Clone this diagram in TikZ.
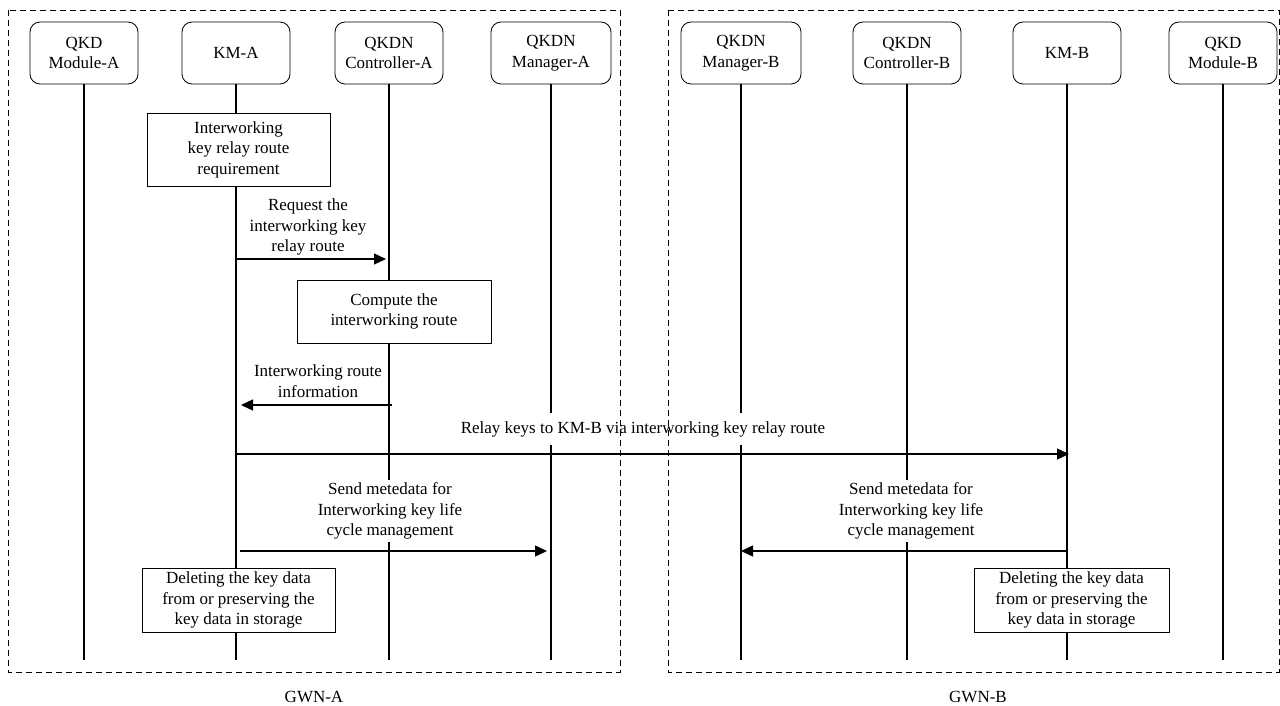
\documentclass[tikz,border=0pt]{standalone}
\usepackage{fontspec}
\setmainfont{Liberation Serif}
\usetikzlibrary{arrows.meta}
\begin{document}
\begin{tikzpicture}[x=1pt,y=-1pt,
 every node/.style={font=\fontsize{17}{20.5}\selectfont, align=center},
 topbox/.style={draw, rounded corners=10pt, minimum height=62pt, minimum width=108pt, inner sep=2pt, line width=0.8pt},
 actbox/.style={draw, fill=white, line width=0.8pt, inner sep=2pt},
 life/.style={line width=1.2pt},
 msg/.style={line width=1.3pt, -{Triangle[length=12pt,width=11pt]}},
 zone/.style={line width=0.8pt, dash pattern=on 6pt off 4pt},
 lbl/.style={inner sep=3pt}]
\useasboundingbox (0,0) rectangle (1280,706);
% participants
\node[topbox] (qma) at (84,53) {QKD\\Module-A};
\node[topbox] (kma) at (236,53) {KM-A};
\node[topbox] (cta) at (389,53) {QKDN\\Controller-A};
\node[topbox, minimum width=120pt] (mga) at (551,53) {QKDN\\Manager-A};
\node[topbox, minimum width=120pt] (mgb) at (741,53) {QKDN\\Manager-B};
\node[topbox] (ctb) at (907,53) {QKDN\\Controller-B};
\node[topbox] (kmb) at (1067,53) {KM-B};
\node[topbox] (qmb) at (1223,53) {QKD\\Module-B};
% lifelines
\coordinate (bot) at (0,660);
\foreach \n in {qma,kma,cta,mga,mgb,ctb,kmb,qmb}
  \draw[life] (\n.south) -- (\n.south |- bot);
% activity boxes
\node[actbox, minimum width=183pt, minimum height=73pt] (req) at (238.5,149.5) {Interworking\\key relay route\\requirement};
\node[actbox, minimum width=194pt, minimum height=63pt] (cmp) at (394,311.5) {Compute the\\interworking route};
\node[actbox, minimum width=193pt, minimum height=64pt] (dela) at (238.5,600) {Deleting the key data\\from or preserving the\\key data in storage};
\node[actbox, minimum width=195pt, minimum height=64pt] (delb) at (1071.5,600) {Deleting the key data\\from or preserving the\\key data in storage};
% message labels
\node[lbl] (t1) at (308,227) {Request the\\interworking key\\relay route};
\node[lbl] (t2) at (318,381) {Interworking route\\information};
\node[lbl, fill=white, inner ysep=8pt] (t3) at (643,429) {Relay keys to KM-B via interworking key relay route};
\node[lbl, fill=white] (t4) at (390,511) {Send metedata for\\Interworking key life\\cycle management};
\node[lbl, fill=white] (t5) at (911,511) {Send metedata for\\Interworking key life\\cycle management};
% messages
\coordinate (y1) at (0,259);
\coordinate (y2) at (0,405);
\coordinate (y3) at (0,454);
\coordinate (y4) at (0,551);
\draw[msg, shorten >=3pt] (kma |- y1) -- (cta |- y1);
\draw[msg, shorten >=5pt, shorten <=-3pt] (cta |- y2) -- (kma |- y2);
\draw[msg, shorten >=-2pt] (kma |- y3) -- (kmb |- y3);
\draw[msg, shorten <=4pt, shorten >=4pt] (kma |- y4) -- (mga |- y4);
\draw[msg] (kmb |- y4) -- (mgb |- y4);
% zones
\draw[zone] (8,10) rectangle (620,672);
\draw[zone] (668,10) rectangle (1279,672);
\node (ga) at (314,697) {GWN-A};
\node (gb) at (978,697) {GWN-B};
\end{tikzpicture}
\end{document}
